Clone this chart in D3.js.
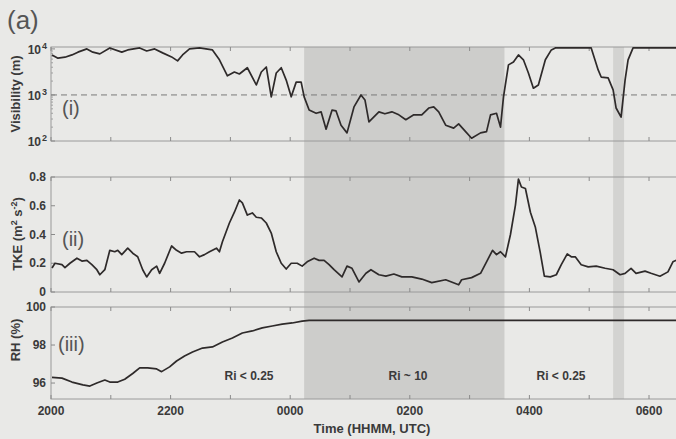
<!DOCTYPE html>
<html>
<head>
<meta charset="utf-8">
<script src="https://cdn.jsdelivr.net/npm/d3@7"></script>
<style>
  body { margin: 0; background: #e9e9e7; }
  svg { display: block; font-family: "Liberation Sans", Arial, sans-serif; }
</style>
</head>
<body>
<script>
const width = 676, height = 439;

// minutes after 2000 UTC
const shadeDark = [254, 455];
const shadeLight = [564, 575];

const visMin = [1,7,14,21,27,36,42,49,59,71,77,89,96,104,112,121,127,132,139,149,162,169,177,184,189,197,206,211,216,221,226,231,236,241,246,251,254,259,266,271,276,282,286,291,297,304,311,315,319,329,335,342,349,356,364,372,379,384,389,396,404,409,416,422,431,437,441,447,451,454,459,464,469,474,479,484,489,496,502,506,542,549,552,559,564,567,572,576,579,584,640];
const visVal = [7400,6300,6600,7400,8500,10000,8500,7800,10500,8500,9500,10500,9000,10000,8200,6700,5500,7400,10000,10500,9500,5800,2600,3150,2850,3900,1650,3150,4050,910,3000,3900,2100,910,1900,1900,910,470,400,430,180,470,450,220,150,550,1000,780,260,430,390,430,370,290,370,370,520,550,430,220,190,235,160,115,150,160,370,400,200,910,4500,5200,7400,5800,3000,1400,1650,5800,9500,10500,10500,3500,2450,2350,1290,520,330,2100,5800,10500,10500];

const tkeMin = [1,4,11,14,19,26,31,36,41,46,49,54,59,64,67,71,77,82,87,92,96,101,106,109,114,121,126,131,136,144,149,154,159,166,169,172,179,184,189,192,197,202,206,211,216,221,226,231,236,241,247,252,257,264,269,274,279,284,292,297,302,309,316,321,329,336,344,352,362,372,382,396,409,412,422,431,437,443,447,451,456,461,466,469,472,476,481,486,491,495,501,507,512,518,522,526,532,539,547,556,564,571,576,582,587,596,602,611,619,624,630];
const tkeVal = [.167,.2,.19,.17,.2,.235,.215,.22,.19,.155,.12,.155,.29,.28,.29,.26,.305,.27,.245,.155,.105,.155,.18,.13,.2,.32,.29,.27,.28,.28,.245,.26,.28,.305,.28,.35,.48,.555,.64,.62,.535,.55,.52,.515,.48,.41,.28,.2,.16,.2,.2,.18,.21,.235,.22,.22,.19,.155,.105,.18,.165,.07,.13,.155,.12,.11,.125,.105,.105,.09,.065,.085,.05,.085,.1,.13,.21,.29,.26,.28,.245,.4,.605,.785,.73,.72,.555,.45,.27,.11,.105,.12,.19,.265,.245,.245,.19,.175,.18,.165,.155,.12,.13,.165,.13,.145,.13,.11,.14,.21,.23];

const rhMin = [1,11,21,32,39,46,54,59,67,74,82,89,97,106,111,119,126,134,142,152,162,172,182,192,202,212,222,232,242,252,259,640];
const rhVal = [96.3,96.26,96.05,95.9,95.84,96.0,96.16,96.05,96.05,96.2,96.5,96.8,96.8,96.74,96.6,96.85,97.16,97.42,97.63,97.84,97.9,98.16,98.37,98.63,98.74,98.9,99.0,99.1,99.16,99.26,99.3,99.3];

const visTicks = [2, 3, 4];
const tkeTicks = [0, 0.2, 0.4, 0.6, 0.8];
const rhTicks = [96, 98, 100];

const t0 = Date.UTC(2010, 0, 1, 20, 0);
const toDate = m => new Date(t0 + m * 60000);

const svg = d3.select("body").append("svg")
    .attr("width", width)
    .attr("height", height);

const x = d3.scaleUtc()
    .domain([toDate(0), toDate(636)])
    .range([51, 51 + 636 * 59.8 / 60]);

const panels = [
    {top: 47, bottom: 141, y: d3.scaleLog().domain([100, 11000]).range([141, 47])},
    {top: 177, bottom: 292, y: d3.scaleLinear().domain([0, 0.8]).range([292, 177])},
    {top: 307, bottom: 399, y: d3.scaleLinear().domain([95.16, 100]).range([399, 307])}
];

// shaded Ri periods, through all panels
svg.append("rect")
    .attr("x", x(toDate(shadeDark[0])))
    .attr("width", x(toDate(shadeDark[1])) - x(toDate(shadeDark[0])))
    .attr("y", 47).attr("height", 352)
    .attr("fill", "#cdcdcb");
svg.append("rect")
    .attr("x", x(toDate(shadeLight[0])))
    .attr("width", x(toDate(shadeLight[1])) - x(toDate(shadeLight[0])))
    .attr("y", 47).attr("height", 352)
    .attr("fill", "#d3d3d1");

const hours = x.ticks(d3.utcHour.every(1));

panels.forEach((p, i) => {
    const g = svg.append("g");
    g.append("rect")
        .attr("x", x.range()[0]).attr("y", p.top)
        .attr("width", x.range()[1] - x.range()[0])
        .attr("height", p.bottom - p.top)
        .attr("fill", "none")
        .attr("stroke", "#9a9a9a");
    // inward ticks top & bottom
    g.selectAll(".tb").data(hours).enter().append("path")
        .attr("d", d => `M${x(d)},${p.bottom}v-4M${x(d)},${p.top}v4`)
        .attr("stroke", "#8a8a8a");
});

// panel (i) visibility
const p1 = panels[0];
const minor = [];
[100, 1000].forEach(b => { for (let k = 2; k <= 9; k++) minor.push(b * k); });
svg.selectAll(".minor").data(minor).enter().append("path")
    .attr("d", d => `M51,${p1.y(d)}h2`)
    .attr("stroke", "#a0a0a0");
svg.append("line")
    .attr("x1", 51).attr("x2", 684)
    .attr("y1", p1.y(1000)).attr("y2", p1.y(1000))
    .attr("stroke", "#7a7a7a")
    .attr("stroke-dasharray", "6,4");
const visLabels = svg.selectAll(".vl").data(visTicks).enter().append("text")
    .attr("x", 41).attr("y", d => p1.y(Math.pow(10, d)) + 5)
    .attr("text-anchor", "end")
    .attr("font-size", 12).attr("font-weight", "bold").attr("fill", "#3a3a3a")
    .text("10");
visLabels.append("tspan")
    .attr("x", 42).attr("dy", -5)
    .attr("font-size", 9).attr("text-anchor", "start")
    .text(d => d);
svg.selectAll(".vt").data(visTicks).enter().append("path")
    .attr("d", d => `M51,${p1.y(Math.pow(10, d))}h4`)
    .attr("stroke", "#8a8a8a");

// panel (ii) TKE and (iii) RH tick labels
[[panels[1], tkeTicks, d3.format(".1f")], [panels[2], rhTicks, d3.format("d")]].forEach(([p, ticks, f]) => {
    svg.selectAll(null).data(ticks).enter().append("text")
        .attr("x", 46).attr("y", d => p.y(d) + 4)
        .attr("text-anchor", "end")
        .attr("font-size", 12).attr("font-weight", "bold").attr("fill", "#3a3a3a")
        .text(d => d === 0 ? "0" : f(d));
    svg.selectAll(null).data(ticks).enter().append("path")
        .attr("d", d => `M51,${p.y(d)}h4`)
        .attr("stroke", "#8a8a8a");
});

// series lines
const series = [
    [visMin, visVal, panels[0].y],
    [tkeMin, tkeVal, panels[1].y],
    [rhMin, rhVal, panels[2].y]
];
series.forEach(([mins, vals, y]) => {
    svg.append("path")
        .datum(mins.map((m, i) => [m, vals[i]]))
        .attr("fill", "none")
        .attr("stroke", "#2e2a2a")
        .attr("stroke-width", 1.7)
        .attr("stroke-linejoin", "round")
        .attr("d", d3.line().x(d => x(toDate(d[0]))).y(d => y(d[1])));
});

// x tick labels
const labelHours = hours.filter(d => d.getUTCHours() % 2 === 0);
svg.selectAll(".xl").data(labelHours).enter().append("text")
    .attr("x", d => x(d)).attr("y", 415)
    .attr("text-anchor", "middle")
    .attr("font-size", 12).attr("font-weight", "bold").attr("fill", "#3a3a3a")
    .text(d3.utcFormat("%H%M"));
svg.append("text")
    .attr("x", 372).attr("y", 433)
    .attr("text-anchor", "middle")
    .attr("font-size", 13).attr("font-weight", "bold").attr("fill", "#3a3a3a")
    .text("Time (HHMM, UTC)");

// y titles
const yTitle = (cx, cy, sel) => sel.attr("transform", `translate(${cx},${cy}) rotate(-90)`)
    .attr("text-anchor", "middle")
    .attr("font-size", 13).attr("font-weight", "bold").attr("fill", "#3a3a3a");
yTitle(20, 94, svg.append("text")).text("Visibility (m)");
const tk = yTitle(22, 234, svg.append("text"));
tk.append("tspan").text("TKE (m");
tk.append("tspan").attr("dy", -5).attr("font-size", 9).text("2");
tk.append("tspan").attr("dy", 5).text(" s");
tk.append("tspan").attr("dy", -5).attr("font-size", 9).text("-2");
tk.append("tspan").attr("dy", 5).text(")");
yTitle(20, 340, svg.append("text")).text("RH (%)");

// panel tags
const tag = (tx, ty, s) => svg.append("text")
    .attr("x", tx).attr("y", ty)
    .attr("font-size", 20).attr("fill", "#555")
    .text(s);
tag(7, 29, "(a)").attr("font-size", 26);
tag(62, 115, "(i)");
tag(62, 246, "(ii)");
tag(58, 351, "(iii)");

// Ri annotations
[[249, "Ri < 0.25"], [408, "Ri ~ 10"], [561, "Ri < 0.25"]].forEach(([tx, s]) => {
    svg.append("text")
        .attr("x", tx).attr("y", 380)
        .attr("text-anchor", "middle")
        .attr("font-size", 12).attr("font-weight", "bold").attr("fill", "#3a3a3a")
        .text(s);
});
</script>
</body>
</html>
